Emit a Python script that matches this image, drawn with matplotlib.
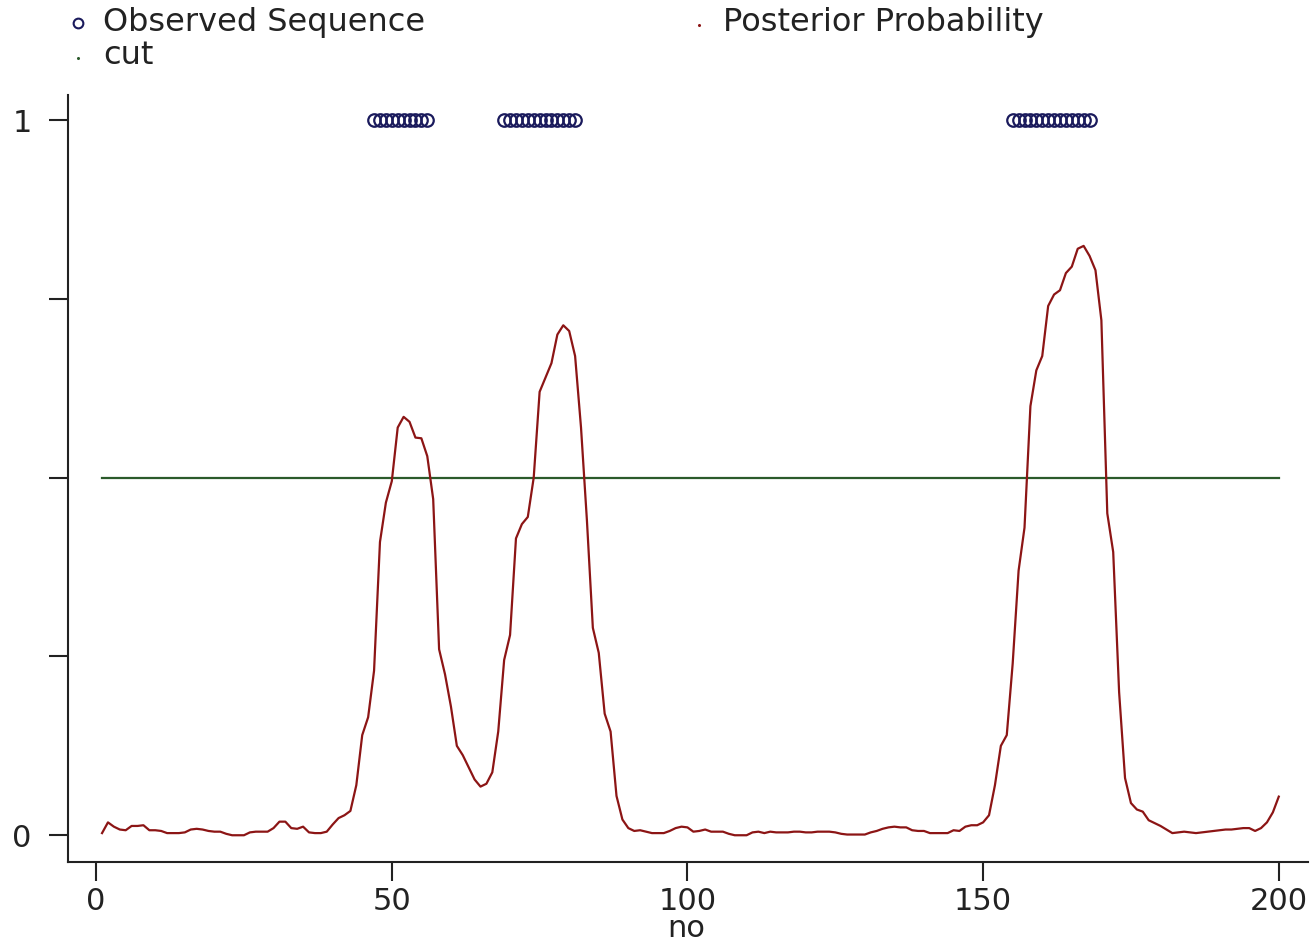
import numpy as np
import matplotlib
matplotlib.use('Agg')
import matplotlib.pyplot as plt
from matplotlib.lines import Line2D

plt.rcParams['font.family'] = ['DejaVu Sans']

#--data--
no = list(range(1, 201))
posterior = [
    0.003, 0.018, 0.012, 0.008, 0.007, 0.013, 0.013, 0.014, 0.007, 0.007,   # 1-10
    0.006, 0.003, 0.003, 0.003, 0.004, 0.008, 0.009, 0.008, 0.006, 0.005,   # 11-20
    0.005, 0.002, 0.000, 0.000, 0.000, 0.004, 0.005, 0.005, 0.005, 0.010,   # 21-30
    0.019, 0.019, 0.010, 0.009, 0.012, 0.004, 0.003, 0.003, 0.005, 0.015,   # 31-40
    0.024, 0.028, 0.034, 0.070, 0.140, 0.165, 0.230, 0.410, 0.465, 0.495,   # 41-50
    0.570, 0.585, 0.578, 0.556, 0.555, 0.530, 0.470, 0.260, 0.225, 0.180,   # 51-60
    0.125, 0.112, 0.095, 0.078, 0.068, 0.072, 0.088, 0.145, 0.245, 0.280,   # 61-70
    0.415, 0.435, 0.445, 0.500, 0.620, 0.640, 0.660, 0.700, 0.713, 0.705,   # 71-80
    0.670, 0.570, 0.440, 0.290, 0.255, 0.170, 0.145, 0.055, 0.022, 0.010,   # 81-90
    0.006, 0.007, 0.005, 0.003, 0.003, 0.003, 0.006, 0.010, 0.012, 0.011,   # 91-100
    0.005, 0.006, 0.008, 0.005, 0.005, 0.005, 0.002, 0.000, 0.000, 0.000,   # 101-110
    0.004, 0.005, 0.003, 0.005, 0.004, 0.004, 0.004, 0.005, 0.005, 0.004,   # 111-120
    0.004, 0.005, 0.005, 0.005, 0.004, 0.002, 0.001, 0.001, 0.001, 0.001,   # 121-130
    0.004, 0.006, 0.009, 0.011, 0.012, 0.011, 0.011, 0.007, 0.006, 0.006,   # 131-140
    0.003, 0.003, 0.003, 0.003, 0.007, 0.006, 0.012, 0.014, 0.014, 0.018,   # 141-150
    0.028, 0.070, 0.125, 0.140, 0.240, 0.370, 0.430, 0.600, 0.650, 0.670,   # 151-160
    0.740, 0.756, 0.762, 0.786, 0.795, 0.820, 0.824, 0.810, 0.790, 0.720,   # 161-170
    0.450, 0.396, 0.200, 0.080, 0.045, 0.036, 0.033, 0.021, 0.017, 0.013,   # 171-180
    0.008, 0.003, 0.004, 0.005, 0.004, 0.003, 0.004, 0.005, 0.006, 0.007,   # 181-190
    0.008, 0.008, 0.009, 0.010, 0.010, 0.006, 0.010, 0.018, 0.032, 0.054,   # 191-200
]
observed_no = (list(range(47, 57)) + list(range(69, 82)) + list(range(155, 169)))
observed = [1] * len(observed_no)
cut = 0.5

navy = '#1a1a5c'
maroon = '#8c1515'
green = '#2b5a2b'
ink = '#222222'

fig = plt.figure(figsize=(13.13, 9.46), dpi=100)
ax = fig.add_axes([0.0516, 0.0891, 0.9444, 0.8105])

ax.plot(no, [cut] * len(no), color=green, lw=1.6, zorder=2)
ax.plot(no, posterior, color=maroon, lw=1.6, zorder=3)
ax.plot(observed_no, observed, ls='none', marker='o', ms=9,
        mfc='none', mec=navy, mew=1.6, zorder=4)

ax.set_xlim(-4.8, 204.9)
ax.set_ylim(-0.037, 1.035)
ax.set_xticks([0, 50, 100, 150, 200])
ax.set_yticks([0, 0.25, 0.5, 0.75, 1])
ax.set_yticklabels(['0', '', '', '', '1'])
ax.tick_params(axis='both', length=14, width=1.5, labelsize=22,
               color=ink, labelcolor=ink)
ax.tick_params(axis='y', pad=12)
ax.tick_params(axis='x', pad=4)
ax.set_xlabel('no', fontsize=22, color=ink, va='center')
ax.xaxis.set_label_coords(0.4985, -0.087)
for s in ['top', 'right']:
    ax.spines[s].set_visible(False)
for s in ['left', 'bottom']:
    ax.spines[s].set_linewidth(1.5)
    ax.spines[s].set_color(ink)

# legend, laid out by hand like the original
W, H = 1313.0, 946.0
def fy(py):
    return 1 - py / H
fig.add_artist(Line2D([78 / W], [fy(23)], marker='o', ms=7, mfc='none',
                      mec=navy, mew=1.5, transform=fig.transFigure))
fig.add_artist(Line2D([78 / W], [fy(58)], marker='o', ms=1.2,
                      color=green, transform=fig.transFigure))
fig.add_artist(Line2D([699 / W], [fy(25)], marker='o', ms=1.2,
                      color=maroon, transform=fig.transFigure))
fig.text(103 / W, fy(22), 'Observed Sequence', fontsize=23,
         va='center', ha='left', color=ink)
fig.text(103 / W, fy(55), 'cut', fontsize=23,
         va='center', ha='left', color=ink)
fig.text(723 / W, fy(22), 'Posterior Probability', fontsize=23,
         va='center', ha='left', color=ink)

fig.savefig('out.png', dpi=100)
